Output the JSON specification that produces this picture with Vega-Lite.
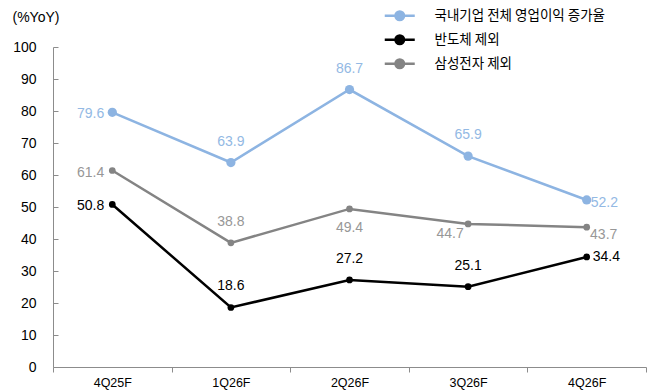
{
  "$schema": "https://vega.github.io/schema/vega-lite/v6.json",
  "width": 593,
  "height": 320,
  "autosize": "none",
  "padding": {"left": 53, "top": 47, "right": 12, "bottom": 25},
  "background": "white",
  "config": {
    "view": {"stroke": null},
    "font": "Liberation Sans",
    "text": {"font": "Liberation Sans", "fontSize": 14}
  },
  "data": {
    "values": [
      {"period": "4Q25F", "series": "국내기업 전체 영업이익 증가율", "value": 79.6},
      {"period": "1Q26F", "series": "국내기업 전체 영업이익 증가율", "value": 63.9},
      {"period": "2Q26F", "series": "국내기업 전체 영업이익 증가율", "value": 86.7},
      {"period": "3Q26F", "series": "국내기업 전체 영업이익 증가율", "value": 65.9},
      {"period": "4Q26F", "series": "국내기업 전체 영업이익 증가율", "value": 52.2},
      {"period": "4Q25F", "series": "반도체 제외", "value": 50.8},
      {"period": "1Q26F", "series": "반도체 제외", "value": 18.6},
      {"period": "2Q26F", "series": "반도체 제외", "value": 27.2},
      {"period": "3Q26F", "series": "반도체 제외", "value": 25.1},
      {"period": "4Q26F", "series": "반도체 제외", "value": 34.4},
      {"period": "4Q25F", "series": "삼성전자 제외", "value": 61.4},
      {"period": "1Q26F", "series": "삼성전자 제외", "value": 38.8},
      {"period": "2Q26F", "series": "삼성전자 제외", "value": 49.4},
      {"period": "3Q26F", "series": "삼성전자 제외", "value": 44.7},
      {"period": "4Q26F", "series": "삼성전자 제외", "value": 43.7}
    ]
  },
  "encoding": {
    "x": {
      "field": "period", "type": "ordinal", "sort": null,
      "scale": {"type": "band", "paddingInner": 0, "paddingOuter": 0},
      "axis": {
        "title": null, "labelAngle": 0, "labelFontSize": 12.5, "labelColor": "#000",
        "domainColor": "#8c8c8c", "tickColor": "#8c8c8c", "tickSize": 5, "tickBand": "extent",
        "labelPadding": 4, "labelFont": "Liberation Sans"
      }
    },
    "y": {
      "field": "value", "type": "quantitative",
      "scale": {"domain": [0, 100], "nice": false},
      "axis": {
        "values": [0, 10, 20, 30, 40, 50, 60, 70, 80, 90, 100],
        "grid": false, "labelFontSize": 14, "labelColor": "#000", "labelFont": "Liberation Sans",
        "domainColor": "#8c8c8c", "tickColor": "#8c8c8c", "tickSize": -5, "labelPadding": 22,
        "title": "(%YoY)", "titleAngle": 0, "titleAlign": "left", "titleBaseline": "middle",
        "titleX": -41, "titleY": -30, "titleFontSize": 14, "titleFontWeight": "normal", "titleColor": "#000",
        "titleFont": "Liberation Sans"
      }
    }
  },
  "layer": [
    {
      "mark": {"type": "line", "strokeWidth": 2.5},
      "encoding": {
        "color": {
          "field": "series", "type": "nominal",
          "scale": {
            "domain": ["국내기업 전체 영업이익 증가율", "반도체 제외", "삼성전자 제외"],
            "range": ["#8db4e2", "#000000", "#848484"]
          },
          "legend": {
            "title": null, "orient": "none", "legendX": 330, "legendY": -38,
            "labelFontSize": 13.5, "labelColor": "#000", "labelFont": "Noto Sans CJK KR", "labelLimit": 0,
            "symbolType": "M-1,0L5,0M2.85,0A0.85,0.85,0,1,1,1.15,0A0.85,0.85,0,1,1,2.85,0Z",
            "symbolSize": 100, "symbolStrokeWidth": 2.5, "labelOffset": 38, "rowPadding": 5,
            "padding": 0,
            "encode": {"symbols": {"update": {"fill": {"scale": "color", "field": "value"}, "opacity": {"value": 1}}}}
          }
        }
      }
    },
    {
      "mark": {"type": "point", "filled": true, "opacity": 1},
      "encoding": {
        "color": {"field": "series", "type": "nominal", "legend": null},
        "size": {
          "condition": {"test": "datum.series === '국내기업 전체 영업이익 증가율'", "value": 85},
          "value": 45
        }
      }
    },
    {
      "transform": [{"filter": "datum.period === '4Q25F'"}],
      "mark": {"type": "text", "align": "right", "baseline": "middle", "dx": -8, "dy": 2},
      "encoding": {
        "text": {"field": "value", "type": "quantitative", "format": ".1f"},
        "fill": {
          "field": "series", "type": "nominal", "legend": null,
          "scale": {
            "domain": ["국내기업 전체 영업이익 증가율", "반도체 제외", "삼성전자 제외"],
            "range": ["#93b9e4", "#000000", "#979797"]
          }
        }
      }
    },
    {
      "transform": [{"filter": "(datum.series !== '삼성전자 제외' && (datum.period === '1Q26F' || datum.period === '2Q26F' || datum.period === '3Q26F')) || (datum.series === '삼성전자 제외' && datum.period === '1Q26F')"}],
      "mark": {"type": "text", "align": "center", "baseline": "middle", "dy": -21},
      "encoding": {
        "text": {"field": "value", "type": "quantitative", "format": ".1f"},
        "fill": {"field": "series", "type": "nominal", "legend": null}
      }
    },
    {
      "transform": [{"filter": "datum.series === '삼성전자 제외' && datum.period === '2Q26F'"}],
      "mark": {"type": "text", "align": "center", "baseline": "middle", "dy": 19},
      "encoding": {
        "text": {"field": "value", "type": "quantitative", "format": ".1f"},
        "fill": {"field": "series", "type": "nominal", "legend": null}
      }
    },
    {
      "transform": [{"filter": "datum.series === '삼성전자 제외' && datum.period === '3Q26F'"}],
      "mark": {"type": "text", "align": "center", "baseline": "middle", "dx": -18, "dy": 10},
      "encoding": {
        "text": {"field": "value", "type": "quantitative", "format": ".1f"},
        "fill": {"field": "series", "type": "nominal", "legend": null}
      }
    },
    {
      "transform": [{"filter": "datum.series === '삼성전자 제외' && datum.period === '4Q26F'"}],
      "mark": {"type": "text", "align": "center", "baseline": "middle", "dx": 17, "dy": 8},
      "encoding": {
        "text": {"field": "value", "type": "quantitative", "format": ".1f"},
        "fill": {"field": "series", "type": "nominal", "legend": null}
      }
    },
    {
      "transform": [{"filter": "datum.series === '국내기업 전체 영업이익 증가율' && datum.period === '4Q26F'"}],
      "mark": {"type": "text", "align": "left", "baseline": "middle", "dx": 4, "dy": 3},
      "encoding": {
        "text": {"field": "value", "type": "quantitative", "format": ".1f"},
        "fill": {"field": "series", "type": "nominal", "legend": null}
      }
    },
    {
      "transform": [{"filter": "datum.series === '반도체 제외' && datum.period === '4Q26F'"}],
      "mark": {"type": "text", "align": "left", "baseline": "middle", "dx": 6, "dy": 0},
      "encoding": {
        "text": {"field": "value", "type": "quantitative", "format": ".1f"},
        "fill": {"field": "series", "type": "nominal", "legend": null}
      }
    }
  ]
}
